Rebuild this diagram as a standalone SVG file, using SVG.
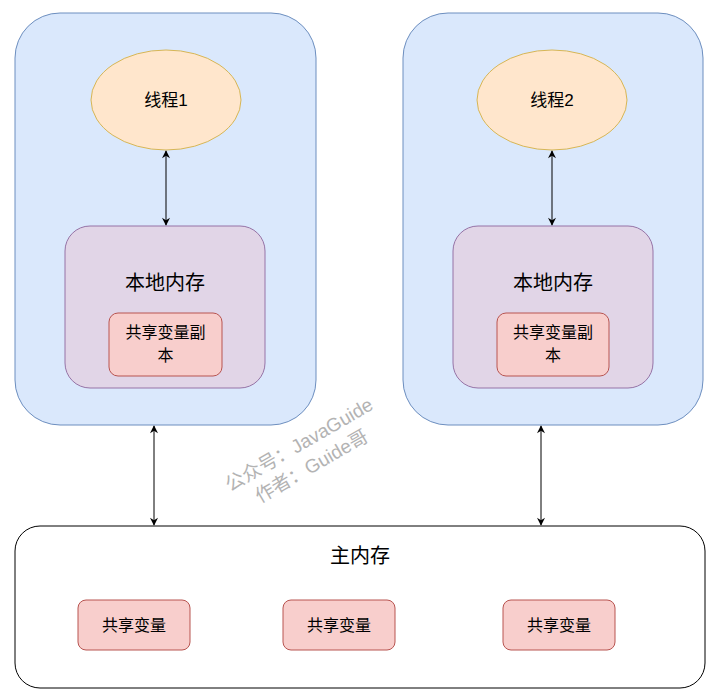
<svg xmlns="http://www.w3.org/2000/svg" width="712" height="698" viewBox="0 0 712 698">
<defs>
<style>
text{font-family:"Liberation Sans","Noto Sans CJK SC",sans-serif;fill:#000;text-anchor:middle;dominant-baseline:central}
.outer{fill:#dae8fc;stroke:#6c8ebf;stroke-width:1}
.thread{fill:#ffe6cc;stroke:#d6b656;stroke-width:1}
.local{fill:#e1d5e7;stroke:#9673a6;stroke-width:1}
.var{fill:#f8cecc;stroke:#b85450;stroke-width:1}
.main{fill:#fff;stroke:#000;stroke-width:1}
.edge{stroke:#000;stroke-width:1;fill:none;marker-start:url(#ah);marker-end:url(#ah)}
.wm{fill:#b3b3b3;font-size:19px}
</style>
<marker id="ah" viewBox="0 0 10 10" refX="9" refY="5" markerWidth="9" markerHeight="8" orient="auto-start-reverse" markerUnits="userSpaceOnUse">
<path d="M0,0 L10,5 L0,10 L3,5 Z" fill="#000"/>
</marker>
</defs>
<rect width="712" height="698" fill="#fff"/>
<g id="outer1"><rect class="outer" x="15" y="13" width="301" height="412" rx="45"/></g>
<g id="outer2"><rect class="outer" x="403" y="13" width="300" height="412" rx="45"/></g>
<g id="thread1"><ellipse class="thread" cx="166" cy="100" rx="75" ry="50"/><text x="166" y="100" font-size="17">线程1</text></g>
<g id="thread2"><ellipse class="thread" cx="552" cy="100" rx="75" ry="50"/><text x="552" y="100" font-size="17">线程2</text></g>
<g id="local1"><rect class="local" x="65" y="226" width="200" height="162" rx="25"/><text x="165" y="283" font-size="20">本地内存</text></g>
<g id="local2"><rect class="local" x="453" y="226" width="200" height="162" rx="25"/><text x="553" y="283" font-size="20">本地内存</text></g>
<g id="copy1"><rect class="var" x="109" y="313" width="113" height="63" rx="9"/><text x="165.5" y="332" font-size="16">共享变量副</text><text x="165.5" y="355" font-size="16">本</text></g>
<g id="copy2"><rect class="var" x="497" y="313" width="112" height="63" rx="9"/><text x="553" y="332" font-size="16">共享变量副</text><text x="553" y="355" font-size="16">本</text></g>
<g id="main"><rect class="main" x="15" y="526" width="690" height="162" rx="25"/><text x="360" y="556" font-size="20">主内存</text></g>
<g id="var1"><rect class="var" x="78" y="600" width="112" height="50" rx="8"/><text x="134" y="625" font-size="16">共享变量</text></g>
<g id="var2"><rect class="var" x="283" y="600" width="112" height="50" rx="8"/><text x="339" y="625" font-size="16">共享变量</text></g>
<g id="var3"><rect class="var" x="503" y="600" width="112" height="50" rx="8"/><text x="559" y="625" font-size="16">共享变量</text></g>
<g id="connectors">
<line class="edge" x1="166" y1="151" x2="166" y2="225"/>
<line class="edge" x1="552" y1="151" x2="552" y2="225"/>
<line class="edge" x1="154" y1="426" x2="154" y2="525"/>
<line class="edge" x1="541" y1="426" x2="541" y2="525"/>
</g>
<g id="watermark" transform="rotate(-30 305 455)">
<text class="wm" x="305" y="443">公众号：JavaGuide</text>
<text class="wm" x="305" y="468">作者：Guide哥</text>
</g>
</svg>
